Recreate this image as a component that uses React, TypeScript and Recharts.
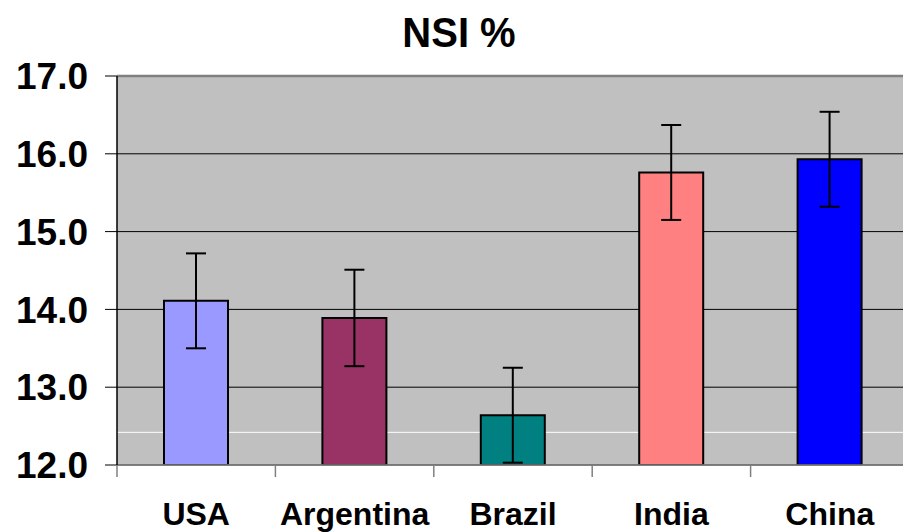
import { BarChart, Bar, XAxis, YAxis, CartesianGrid, ErrorBar, Cell, ReferenceLine } from 'recharts';

const countries = ['USA', 'Argentina', 'Brazil', 'India', 'China'];
const nsiValues = [14.11, 13.89, 12.64, 15.76, 15.93];
const nsiErrors = [0.61, 0.62, 0.61, 0.61, 0.61];
const barColors = ['#9999FF', '#993366', '#008080', '#FF8080', '#0000FF'];
const yTicks = [12, 13, 14, 15, 16, 17];

const data = countries.map((name, i) => ({ name, nsi: nsiValues[i], err: nsiErrors[i] }));

const CHART_W = 909;
const CHART_H = 532;
const Y_AXIS_W = 117;
const BAND = (CHART_W - Y_AXIS_W) / countries.length;
const FONT = '"Liberation Sans", Arial, sans-serif';

function CategoryTick(props: any) {
  const { x, y, payload } = props;
  return (
    <g>
      <line x1={x - BAND / 2} y1={y} x2={x - BAND / 2} y2={y + 12} stroke="#808080" strokeWidth={1.5} />
      <text x={x} y={y + 60} textAnchor="middle" fontFamily={FONT} fontWeight="bold" fontSize={32} fill="#000">
        {payload.value}
      </text>
    </g>
  );
}

export default function App() {
  return (
    <div style={{ position: 'absolute', left: 0, top: 0, width: 903, height: 532, overflow: 'hidden', background: '#fff' }}>
      <div
        style={{
          position: 'absolute',
          left: 0,
          top: 12,
          width: 918,
          textAlign: 'center',
          fontFamily: FONT,
          fontWeight: 'bold',
          fontSize: 40,
          lineHeight: '40px',
          transform: 'scaleY(1.08)',
        }}
      >
        NSI %
      </div>
      <BarChart
        width={CHART_W}
        height={CHART_H}
        data={data}
        margin={{ top: 76, right: 0, bottom: 0, left: 0 }}
        barSize={64}
      >
        <CartesianGrid fill="#C0C0C0" stroke="#000" vertical={false} />
        <CartesianGrid stroke="#fff" vertical={false} horizontalValues={[12.42]} />
        <XAxis
          dataKey="name"
          height={67}
          axisLine={{ stroke: '#808080', strokeWidth: 1.5 }}
          tickLine={false}
          tickSize={0}
          tickMargin={0}
          interval={0}
          tick={<CategoryTick />}
        />
        <YAxis
          domain={[12, 17]}
          ticks={yTicks}
          width={Y_AXIS_W}
          tickFormatter={(v: number) => v.toFixed(1)}
          axisLine={{ stroke: '#000', strokeWidth: 1.5 }}
          tickLine={{ stroke: '#000' }}
          tickSize={12}
          tickMargin={17}
          tick={{ fontFamily: FONT, fontWeight: 'bold', fontSize: 37, fill: '#000' }}
          allowDataOverflow
        />
        <ReferenceLine y={17} stroke="#808080" strokeWidth={2.5} />
        <Bar dataKey="nsi" stroke="#000" strokeWidth={2} isAnimationActive={false}>
          {data.map((d, i) => (
            <Cell key={d.name} fill={barColors[i]} />
          ))}
          <ErrorBar dataKey="err" stroke="#000" strokeWidth={2} width={10} direction="y" />
        </Bar>
      </BarChart>
    </div>
  );
}
